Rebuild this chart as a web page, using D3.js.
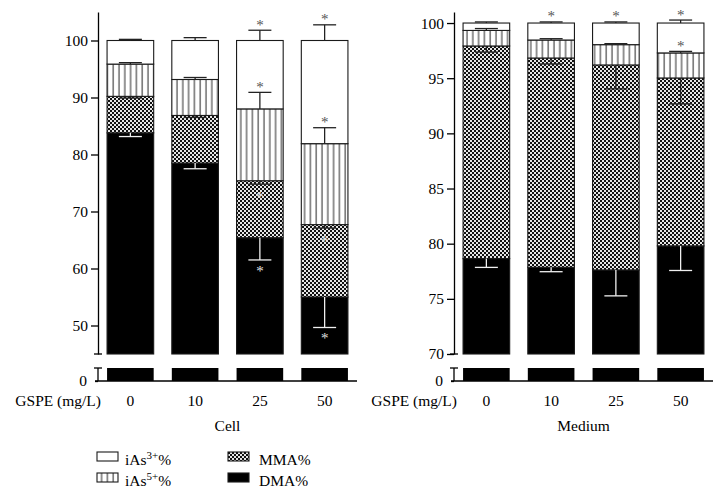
<!DOCTYPE html>
<html>
<head>
<meta charset="utf-8">
<script src="https://cdn.jsdelivr.net/npm/d3@7"></script>
<style>
  html, body { margin: 0; padding: 0; background: #fff; }
  svg { display: block; }
  text { font-family: "Liberation Serif", "Times New Roman", serif; fill: #000; }
</style>
</head>
<body>
<svg id="chart" width="724" height="494"></svg>
<script>
// ---------- DATA ----------
const categories = ["0", "10", "25", "50"];
const seriesNames = ["DMA", "MMA", "iAs5", "iAs3"];

// Cell (component percentages, stacked DMA -> MMA -> iAs5+ -> iAs3+)
const cellDMA  = [83.8, 78.5, 65.4, 55.0];
const cellMMA  = [6.4, 8.35, 10.0, 12.7];
const cellIAs5 = [5.66, 6.31, 12.6, 14.2];
const cellIAs3 = [4.14, 6.84, 12.0, 18.1];
const cellErrDMA  = [0.65, 1.0, 3.9, 5.35];
const cellErrMMA  = [0.3, 0.35, 0.6, 0.6];
const cellErrIAs5 = [0.25, 0.35, 2.9, 2.8];
const cellErrIAs3 = [0.2, 0.5, 1.8, 2.75];
const cellStarDMA  = [0, 0, 1, 1];
const cellStarMMA  = [0, 0, 1, 1];
const cellStarIAs5 = [0, 0, 1, 1];
const cellStarIAs3 = [0, 0, 1, 1];
const cellTicks = [50, 60, 70, 80, 90, 100];

// Medium
const medDMA  = [78.65, 77.86, 77.62, 79.8];
const medMMA  = [19.27, 18.97, 18.58, 15.22];
const medIAs5 = [1.41, 1.63, 1.84, 2.27];
const medIAs3 = [0.67, 1.54, 1.96, 2.71];
const medErrDMA  = [0.8, 0.4, 2.35, 2.23];
const medErrMMA  = [0.55, 0.54, 2.17, 2.35];
const medErrIAs5 = [0.17, 0.12, 0.09, 0.14];
const medErrIAs3 = [0.1, 0.1, 0.1, 0.27];
const medStarDMA  = [0, 0, 0, 0];
const medStarMMA  = [0, 0, 0, 0];
const medStarIAs5 = [0, 0, 0, 1];
const medStarIAs3 = [0, 1, 1, 1];
const medTicks = [70, 75, 80, 85, 90, 95, 100];

const xAxisLabel = "GSPE (mg/L)";
const panelTitles = ["Cell", "Medium"];
const legendItems = [
  { key: "iAs3", base: "iAs", sup: "3+", tail: "%" },
  { key: "iAs5", base: "iAs", sup: "5+", tail: "%" },
  { key: "MMA", base: "MMA%", sup: "", tail: "" },
  { key: "DMA", base: "DMA%", sup: "", tail: "" }
];

// ---------- DRAW ----------
const svg = d3.select("#chart");
const defs = svg.append("defs");

const hatch = defs.append("pattern").attr("id", "hatch")
  .attr("patternUnits", "userSpaceOnUse").attr("width", 5.8).attr("height", 10);
hatch.append("rect").attr("width", 5.8).attr("height", 10).attr("fill", "#fff");
hatch.append("line").attr("x1", 3).attr("x2", 3).attr("y1", 0).attr("y2", 10)
  .attr("stroke", "#3a3a3a").attr("stroke-width", 1.1);

const checker = defs.append("pattern").attr("id", "checker")
  .attr("patternUnits", "userSpaceOnUse").attr("width", 4).attr("height", 4);
checker.append("rect").attr("width", 4).attr("height", 4).attr("fill", "#e6e6e6");
checker.append("rect").attr("x", 0).attr("y", 0).attr("width", 2).attr("height", 2).attr("fill", "#111");
checker.append("rect").attr("x", 2).attr("y", 2).attr("width", 2).attr("height", 2).attr("fill", "#111");

const fills = { DMA: "#000", MMA: "url(#checker)", iAs5: "url(#hatch)", iAs3: "#fff" };

const panels = [
  {
    title: panelTitles[0], x0: 98, x1: 357, domain: [45, 105], ticks: cellTicks,
    vals: { DMA: cellDMA, MMA: cellMMA, iAs5: cellIAs5, iAs3: cellIAs3 },
    errs: { DMA: cellErrDMA, MMA: cellErrMMA, iAs5: cellErrIAs5, iAs3: cellErrIAs3 },
    stars: { DMA: cellStarDMA, MMA: cellStarMMA, iAs5: cellStarIAs5, iAs3: cellStarIAs3 }
  },
  {
    title: panelTitles[1], x0: 454, x1: 713, domain: [70, 101], ticks: medTicks,
    vals: { DMA: medDMA, MMA: medMMA, iAs5: medIAs5, iAs3: medIAs3 },
    errs: { DMA: medErrDMA, MMA: medErrMMA, iAs5: medErrIAs5, iAs3: medErrIAs3 },
    stars: { DMA: medStarDMA, MMA: medStarMMA, iAs5: medStarIAs5, iAs3: medStarIAs3 }
  }
];

const upperTop = 12, upperBottom = 354, lowerTop = 368, lowerBottom = 381;
const fontSize = 15.5;
const errDir = { DMA: -1, MMA: -1, iAs5: 1, iAs3: 1 };
const errColor = { DMA: "#f0f0f0", MMA: "#222", iAs5: "#222", iAs3: "#222" };

panels.forEach(p => {
  const g = svg.append("g");
  const x = d3.scaleBand().domain(categories).range([p.x0, p.x1])
    .paddingInner(0.28).paddingOuter(0.14);
  const yU = d3.scaleLinear().domain(p.domain).range([upperBottom, upperTop]).clamp(true);
  const yL = d3.scaleLinear().domain([0, 5]).range([lowerBottom, lowerTop]).clamp(true);

  // stacked segments
  categories.forEach((c, i) => {
    let cum = 0;
    seriesNames.forEach(s => {
      const lo = cum, hi = cum + p.vals[s][i];
      cum = hi;
      const y1 = yU(hi), y0 = yU(lo);
      if (y0 - y1 > 0) {
        g.append("rect")
          .attr("x", x(c)).attr("width", x.bandwidth())
          .attr("y", y1).attr("height", y0 - y1)
          .attr("fill", fills[s]).attr("stroke", "#1a1a1a").attr("stroke-width", 1.1);
      }
    });
    // lower (broken) segment
    g.append("rect")
      .attr("x", x(c)).attr("width", x.bandwidth())
      .attr("y", yL(p.vals.DMA[i])).attr("height", yL(0) - yL(p.vals.DMA[i]))
      .attr("fill", "#000");
  });

  // error bars and stars
  categories.forEach((c, i) => {
    let cum = 0;
    const cx = x(c) + x.bandwidth() / 2;
    seriesNames.forEach(s => {
      cum += p.vals[s][i];
      const top = cum;
      const end = top + errDir[s] * p.errs[s][i];
      const col = errColor[s];
      g.append("line").attr("x1", cx).attr("x2", cx)
        .attr("y1", yU(top)).attr("y2", yU(end))
        .attr("stroke", col).attr("stroke-width", 1.3);
      g.append("line").attr("x1", cx - 11.5).attr("x2", cx + 11.5)
        .attr("y1", yU(end)).attr("y2", yU(end))
        .attr("stroke", col).attr("stroke-width", 1.3);
      if (p.stars[s][i]) {
        let cy, sc;
        if (errDir[s] > 0) { cy = yU(end) - 8; sc = "#555"; }
        else if (s === "MMA") { cy = yU(end) + 10; sc = "#e0e0e0"; }
        else { cy = yU(end) + 8.5; sc = "#e0e0e0"; }
        g.append("text").attr("x", cx).attr("y", cy + 7.5)
          .attr("text-anchor", "middle").attr("font-size", 15)
          .style("fill", sc).text("*");
      }
    });
  });

  // upper y axis
  const axU = g.append("g").attr("transform", `translate(${p.x0},0)`)
    .call(d3.axisLeft(yU).tickValues(p.ticks).tickSize(7).tickSizeOuter(0).tickPadding(3)
      .tickFormat(d3.format("d")));
  axU.selectAll("path, line").attr("stroke", "#000").attr("stroke-width", 1.3);
  axU.selectAll("text").attr("font-size", fontSize)
    .style("font-family", '"Liberation Serif", serif');
  // lower y axis
  const axL = g.append("g").attr("transform", `translate(${p.x0},0)`)
    .call(d3.axisLeft(yL).tickValues([0]).tickSize(3).tickSizeOuter(0).tickPadding(8)
      .tickFormat(d3.format("d")));
  axL.select("path").attr("d", `M0,${lowerTop}V${lowerBottom}`);
  axL.selectAll("path, line").attr("stroke", "#000").attr("stroke-width", 1.3);
  axL.selectAll("text").attr("font-size", fontSize)
    .style("font-family", '"Liberation Serif", serif');
  // break ticks
  [upperBottom, lowerTop].forEach(yy => {
    g.append("line").attr("x1", p.x0 - 4).attr("x2", p.x0 + 4)
      .attr("y1", yy).attr("y2", yy).attr("stroke", "#000").attr("stroke-width", 1.3);
  });

  // x axis
  const axX = g.append("g").attr("transform", `translate(0,${lowerBottom})`)
    .call(d3.axisBottom(x).tickSize(0).tickPadding(14));
  axX.select("path").attr("d", `M${p.x0 - 3},0H${p.x1}`)
    .attr("stroke", "#000").attr("stroke-width", 1.3);
  axX.selectAll("text").attr("font-size", fontSize)
    .style("font-family", '"Liberation Serif", serif');

  g.append("text").attr("x", p.x0 + 3).attr("y", 406)
    .attr("text-anchor", "end").attr("font-size", fontSize).text(xAxisLabel);
  g.append("text").attr("x", (p.x0 + p.x1) / 2).attr("y", 431)
    .attr("text-anchor", "middle").attr("font-size", fontSize).text(p.title);
});

// legend
const legPos = [
  { sx: 97, sy: 452, tx: 125, ty: 465 },
  { sx: 97, sy: 473, tx: 125, ty: 486 },
  { sx: 228, sy: 452, tx: 259, ty: 465 },
  { sx: 228, sy: 473, tx: 259, ty: 486 }
];
legendItems.forEach((it, i) => {
  const pos = legPos[i];
  svg.append("rect").attr("x", pos.sx).attr("y", pos.sy)
    .attr("width", 21).attr("height", 9)
    .attr("fill", fills[it.key]).attr("stroke", "#1a1a1a").attr("stroke-width", 1.1);
  const t = svg.append("text").attr("x", pos.tx).attr("y", pos.ty).attr("font-size", fontSize);
  t.append("tspan").text(it.base);
  if (it.sup) {
    t.append("tspan").attr("dy", -6).attr("font-size", 11).text(it.sup);
    t.append("tspan").attr("dy", 6).text(it.tail);
  }
});
</script>
</body>
</html>
